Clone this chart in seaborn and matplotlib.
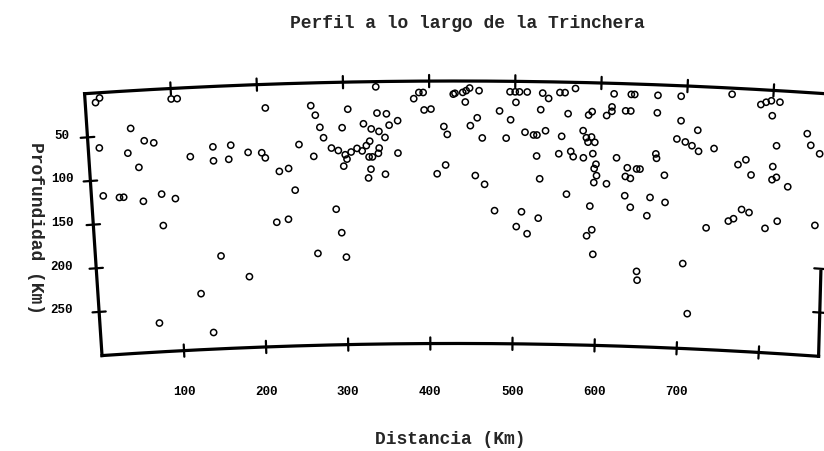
import numpy as np
import pandas as pd
import matplotlib
matplotlib.use("Agg")
import matplotlib.pyplot as plt
import seaborn as sns

# ---- data ----
distancia = [12, 17, 100, 107, 209, 51, 66, 77, 13, 46, 119, 146, 146, 167, 164, 187, 203, 207, 58, 14,
             33, 38, 61, 83, 99, 338, 388, 393, 382, 428, 262, 267, 305, 339, 350, 394, 402, 363, 353, 323,
             272, 298, 332, 341, 348, 417, 421, 276, 247, 285, 293, 301, 308, 315, 321, 326, 330, 341, 340, 264,
             303, 299, 329, 333, 363, 223, 234, 331, 328, 348, 419, 409, 241, 430, 439, 443, 447, 458, 494, 500,
             505, 514, 501, 532, 539, 552, 558, 570, 615, 635, 639, 442, 482, 530, 495, 456, 448, 562, 586, 590,
             607, 613, 613, 629, 635, 462, 490, 512, 522, 526, 536, 555, 580, 584, 590, 594, 586, 526, 552, 566,
             569, 581, 592, 620, 596, 594, 597, 594, 609, 633, 631, 637, 644, 454, 465, 530, 562, 631, 666, 693,
             752, 786, 792, 798, 808, 666, 800, 694, 714, 690, 700, 708, 716, 734, 842, 847, 858, 807, 666, 667,
             763, 772, 779, 804, 809, 804, 823, 648, 677, 661, 679, 477, 509, 529, 503, 516, 590, 638, 658, 593,
             587, 595, 648, 649, 703, 711, 729, 755, 761, 770, 779, 799, 813, 858, 83, 150, 218, 232, 289, 295,
             266, 300, 183, 124, 72, 137]
profundidad = [11, 6, 12, 12, 27, 43, 58, 61, 63, 71, 79, 69, 85, 68, 84, 77, 78, 84, 88, 118,
               121, 121, 127, 120, 126, 6, 13, 13, 20, 15, 26, 37, 31, 36, 37, 33, 32, 45, 50, 48,
               51, 52, 54, 57, 64, 52, 61, 63, 70, 75, 78, 83, 80, 76, 79, 73, 68, 76, 82, 84,
               88, 96, 86, 86, 82, 100, 97, 100, 110, 106, 96, 106, 122, 14, 13, 11, 8, 11, 12, 12,
               12, 12, 24, 13, 19, 12, 12, 7, 12, 12, 12, 24, 34, 32, 44, 42, 51, 36, 37, 33,
               37, 32, 27, 31, 31, 65, 65, 58, 61, 61, 56, 62, 55, 63, 62, 68, 68, 85, 82, 79,
               85, 86, 81, 85, 93, 98, 106, 114, 115, 96, 106, 108, 97, 108, 118, 111, 128, 128, 12, 12,
               7, 17, 14, 12, 13, 32, 29, 40, 50, 61, 64, 68, 74, 70, 47, 60, 69, 63, 79, 84,
               87, 81, 98, 87, 99, 102, 109, 97, 103, 129, 134, 148, 149, 156, 166, 174, 141, 141, 150, 168,
               175, 196, 214, 224, 203, 260, 161, 152, 149, 138, 141, 158, 149, 151, 156, 194, 158, 155, 145, 172,
               195, 200, 219, 236, 267, 281]

dist_ticks = [100, 200, 300, 400, 500, 600, 700, 800]
dist_labels = [100, 200, 300, 400, 500, 600, 700]
prof_ticks = [50, 100, 150, 200, 250]
dist_max = 860
dist_max_fondo = 873   # right edge of the frame at the bottom (edge is not radial)
prof_max = 300
R = 6371.0  # Earth radius, km
centro = dist_max / 2.0

titulo = "Perfil a lo largo de la Trinchera"
etiqueta_x = "Distancia (Km)"
etiqueta_y = "Profundidad (Km)"


def proyectar(s, d):
    s = np.asarray(s, dtype=float)
    d = np.asarray(d, dtype=float)
    th = (s - centro) / R
    return (R - d) * np.sin(th), (R - d) * np.cos(th) - R


sns.set_theme(style="white")
plt.rcParams['font.family'] = ['Liberation Mono', 'DejaVu Sans']

fig = plt.figure(figsize=(8.24, 4.51), dpi=100)
ax = fig.add_axes([0, 0, 1, 1])

# ---- curved frame ----
lw_frame = 2.3
s_top = np.linspace(0, dist_max, 200)
s_bot = np.linspace(0, dist_max_fondo, 200)
d_line = np.linspace(0, prof_max, 50)
for xs, ys in [proyectar(s_top, 0 * s_top),
               proyectar(s_bot, prof_max + 0 * s_bot),
               proyectar(0 * d_line, d_line)]:
    ax.plot(xs, ys, color='black', lw=lw_frame, solid_capstyle='projecting')


def borde_derecho(d):
    d = np.asarray(d, dtype=float)
    return dist_max + (dist_max_fondo - dist_max) * d / prof_max


d_right = np.linspace(203, prof_max, 20)
xr, yr = proyectar(borde_derecho(d_right), d_right)
ax.plot(xr, yr, color='black', lw=lw_frame, solid_capstyle='projecting')

# ticks (crosses on the frame)
for s in dist_ticks:
    for d0 in (0, prof_max):
        xt, yt = proyectar([s, s], [d0 - 7, d0 + 7])
        ax.plot(xt, yt, color='black', lw=1.6)
for d in prof_ticks:
    xt, yt = proyectar([-8, 8], [d, d])
    ax.plot(xt, yt, color='black', lw=1.6)
for d in (200, 250):
    sb = float(borde_derecho(d))
    xt, yt = proyectar([sb - 8, sb + 8], [d, d])
    ax.plot(xt, yt, color='black', lw=1.6)

# tick labels
y_lab = (81 - 392) / 0.875
for s in dist_labels:
    xl, _ = proyectar(s, prof_max)
    ax.text(float(xl), y_lab, str(s), ha='center', va='center',
            fontsize=9, fontweight='bold', color='black')
x_lab = (62 - 455) / 0.862
for d in prof_ticks:
    _, yl = proyectar(0, d)
    ax.text(x_lab, float(yl) + 2, str(d), ha='center', va='center',
            fontsize=9, fontweight='bold', color='black')

# ---- events ----
X, Y = proyectar(distancia, profundidad)
df = pd.DataFrame({'x': X, 'y': Y})
sns.scatterplot(data=df, x='x', y='y', ax=ax, marker='o', s=20,
                facecolor='none', edgecolor='black', linewidth=1.1)
ax.set_xlim(-527.8, 428.1)
ax.set_ylim(-422.9, 92.6)
ax.axis('off')

# ---- texts ----
fig.text(467 / 824, 1 - 24 / 451, titulo, ha='center', va='center',
         fontsize=13, fontweight='bold')
fig.text(450 / 824, 1 - 440 / 451, etiqueta_x, ha='center', va='center',
         fontsize=13, fontweight='bold')
fig.text(35 / 824, 1 - 228 / 451, etiqueta_y, ha='center', va='center',
         rotation=-90, fontsize=13, fontweight='bold')

fig.savefig('out.png', dpi=100)
